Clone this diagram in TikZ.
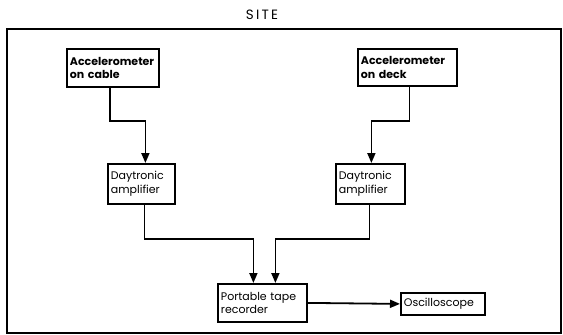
\documentclass[tikz,border=0pt]{standalone}
\usepackage{fontspec}
\setmainfont{Poppins}
\usetikzlibrary{arrows.meta}

\tikzset{
	blk/.style={draw, line width=1.8pt, anchor=north west, align=left,
		inner xsep=3pt, inner ysep=0pt, font=\fontsize{11}{13.5}\selectfont},
	heavy/.style={font=\fontsize{11}{13.5}\selectfont\bfseries},
	wire/.style={line width=1.8pt}
}

\begin{document}
\begin{tikzpicture}[x=1pt, y=-1pt, >={Triangle[length=10pt, width=8pt]}]
	\useasboundingbox (0,0) rectangle (563,335);
	% frame of the site
	\node (site) at (262,15) {\fontsize{13.5}{15}\selectfont S\,I\,T\,E};
	\draw[line width=2.4pt] (7,333) -- (7,29) -- (561,29) -- (561,333) -- cycle;

	% blocks
	\node[blk, heavy, text width=86pt, minimum height=38pt] (acccable) at (66,48) {Accelerometer\\on cable};
	\node[blk, heavy, text width=93pt, minimum height=37pt] (accdeck) at (357,48) {Accelerometer\\on deck};
	\node[blk, text width=61pt, minimum height=40pt] (ampl) at (107,163) {Daytronic\\amplifier};
	\node[blk, text width=63pt, minimum height=40pt] (ampr) at (335,163) {Daytronic\\amplifier};
	\node[blk, text width=83pt, minimum height=38pt] (rec) at (217,283) {Portable tape\\recorder};
	\node[blk, text width=78pt, minimum height=22pt] (osc) at (400,292) {Oscilloscope};

	% signal paths
	\begin{scope}[wire]
		\draw[->] ([xshift=-3pt]acccable.south) -- ++(0,33) -| ([xshift=4pt]ampl.north);
		\draw[->] ([xshift=2pt]accdeck.south) -- ++(0,34) -| ([xshift=1pt]ampr.north);
		\draw[->] ([xshift=3pt]ampl.south) -- ++(0,34) -| ([xshift=-9pt]rec.north);
		\draw[->] ([xshift=-1pt]ampr.south) -- ++(0,34) -| ([xshift=13pt]rec.north);
		\draw[->] (rec.east) -- (osc.west);
	\end{scope}
\end{tikzpicture}
\end{document}
